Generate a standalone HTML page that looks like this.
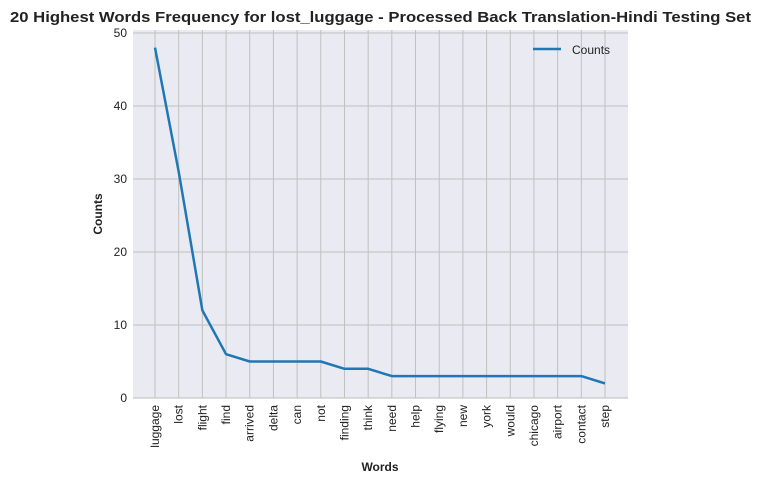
<!DOCTYPE html>
<html><head><meta charset="utf-8"><style>
body{margin:0;background:#fff;font-family:"Liberation Sans",sans-serif}
</style></head><body>
<svg width="761" height="484" xmlns="http://www.w3.org/2000/svg">
<text x="380.5" y="22" text-anchor="middle" font-size="14.5" font-weight="bold" fill="#222" textLength="741" lengthAdjust="spacingAndGlyphs">20 Highest Words Frequency for lost_luggage - Processed Back Translation-Hindi Testing Set</text>
<rect x="133" y="30" width="495" height="368" fill="#eaeaf2"/>
<g id="grid"></g>
<g id="ticks"></g>
<polyline id="line" fill="none" stroke="#1f77b4" stroke-width="2.5" stroke-linejoin="round"/>
<line x1="133" y1="398" x2="628" y2="398" stroke="#bbb" stroke-width="1"/>
<text transform="translate(102,214) rotate(-90)" text-anchor="middle" font-size="12" font-weight="bold" fill="#222">Counts</text>
<text x="380" y="471" text-anchor="middle" font-size="12" font-weight="bold" fill="#222">Words</text>
<g>
<line x1="533" y1="49" x2="561" y2="49" stroke="#1f77b4" stroke-width="2.5"/>
<text x="572" y="54" font-size="12" fill="#222">Counts</text>
</g>
</svg>
<script>
const words=["luggage","lost","flight","find","arrived","delta","can","not","finding","think","need","help","flying","new","york","would","chicago","airport","contact","step"];
const counts=[48,31,12,6,5,5,5,5,4,4,3,3,3,3,3,3,3,3,3,2];
const yTicks=[0,10,20,30,40,50];
const NS="http://www.w3.org/2000/svg";
const xs=i=>155+i*(605-155)/19;
const ys=v=>398-v*7.3;
const grid=document.getElementById('grid'),ticks=document.getElementById('ticks');
yTicks.forEach(t=>{
 const l=document.createElementNS(NS,'line');
 l.setAttribute('x1',133);l.setAttribute('x2',628);l.setAttribute('y1',ys(t));l.setAttribute('y2',ys(t));
 l.setAttribute('stroke','#c0c0c0');l.setAttribute('stroke-width','1');
 
 
 grid.appendChild(l);
 const tx=document.createElementNS(NS,'text');
 tx.setAttribute('x',127);tx.setAttribute('y',ys(t)+4);tx.setAttribute('text-anchor','end');
 tx.setAttribute('font-size','12');tx.setAttribute('fill','#222');tx.textContent=t;
 
 
 ticks.appendChild(tx);
});
words.forEach((w,i)=>{
 const l=document.createElementNS(NS,'line');
 l.setAttribute('x1',xs(i));l.setAttribute('x2',xs(i));l.setAttribute('y1',30);l.setAttribute('y2',398);
 l.setAttribute('stroke','#c0c0c0');l.setAttribute('stroke-width','1');
 
 
 grid.appendChild(l);
 const tx=document.createElementNS(NS,'text');
 tx.setAttribute('transform','translate('+(xs(i)+4)+',405) rotate(-90)');
 tx.setAttribute('text-anchor','end');tx.setAttribute('font-size','12');tx.setAttribute('fill','#222');
 tx.textContent=w;
 
 
 ticks.appendChild(tx);
});
document.getElementById('line').setAttribute('points',counts.map((v,i)=>xs(i)+','+ys(v)).join(' '));
</script>
</body></html>
